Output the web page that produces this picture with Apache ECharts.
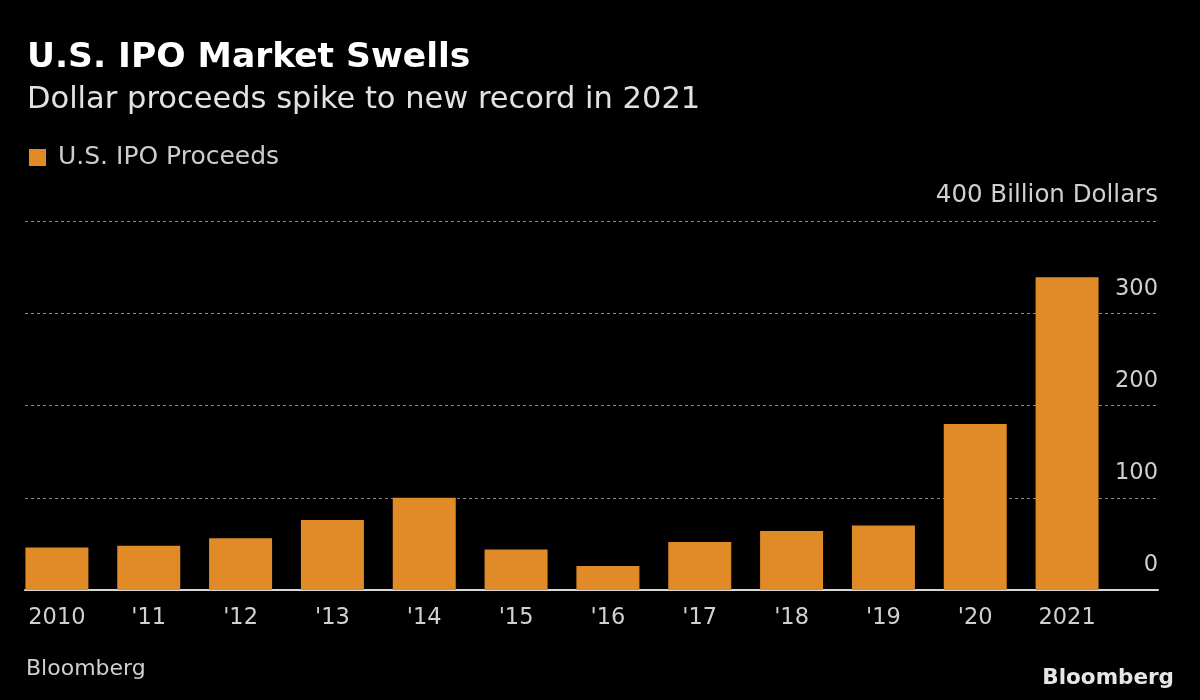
<!DOCTYPE html>
<html>
<head>
<meta charset="utf-8">
<script src="https://cdn.jsdelivr.net/npm/echarts@6/dist/echarts.min.js"></script>
<style>
  html, body { margin: 0; padding: 0; background: #000; }
  #chart { width: 1200px; height: 700px; }
</style>
</head>
<body>
<div id="chart"></div>
<script>
const categories = ['2010', "'11", "'12", "'13", "'14", "'15", "'16", "'17", "'18", "'19", "'20", '2021'];
const proceeds = [46, 48, 56, 76, 100, 44, 26, 52, 64, 70, 180, 339];
const seriesName = 'U.S. IPO Proceeds';
const yTicks = { min: 0, max: 400, interval: 100 };
const unitLabel = 'Billion Dollars';

const FONT = 'DejaVu Sans';
const chart = echarts.init(document.getElementById('chart'), null, { renderer: 'canvas' });

chart.setOption({
  backgroundColor: '#000000',
  animation: false,
  title: [
    { text: 'U.S. IPO Market Swells', left: 22, top: 36,
      textStyle: { color: '#ffffff', fontFamily: FONT, fontWeight: 'bold', fontSize: 34.5 } },
    { text: 'Dollar proceeds spike to new record in 2021', left: 22, top: 80,
      textStyle: { color: '#e2e2e2', fontFamily: FONT, fontWeight: 'normal', fontSize: 30.5 } },
    { text: 'Bloomberg', left: 21, top: 653,
      textStyle: { color: '#cfcfcf', fontFamily: FONT, fontWeight: 'normal', fontSize: 22 } },
    { text: 'Bloomberg', right: 21, top: 662,
      textStyle: { color: '#e6e6e6', fontFamily: FONT, fontWeight: 'bold', fontSize: 21.5 } }
  ],
  legend: {
    data: [seriesName],
    left: 24, top: 140,
    icon: 'rect', itemWidth: 17, itemHeight: 17, itemGap: 8,
    textStyle: { color: '#cccccc', fontFamily: FONT, fontSize: 25, padding: [0, 0, 0, 7] }
  },
  grid: [
    { left: 11, right: 87, top: 221, bottom: 110 },
    { left: 25, right: 42, top: 221, bottom: 110 }
  ],
  xAxis: [
    { type: 'category', gridIndex: 0, data: categories,
      axisLine: { show: false }, axisTick: { show: false },
      axisLabel: { color: '#d0d0d0', fontFamily: FONT, fontSize: 22.5, margin: 17 } },
    { type: 'value', gridIndex: 1, min: 0, max: 1,
      axisLine: { show: true, onZero: false, lineStyle: { color: '#d8d8d8', width: 2 } },
      axisTick: { show: false }, axisLabel: { show: false }, splitLine: { show: false } }
  ],
  yAxis: [
    { type: 'value', gridIndex: 0, min: yTicks.min, max: yTicks.max, interval: yTicks.interval, show: false,
      splitLine: { show: false } },
    { type: 'value', gridIndex: 1, min: yTicks.min, max: yTicks.max, interval: yTicks.interval,
      position: 'right',
      axisLine: { show: false }, axisTick: { show: false },
      axisLabel: {
        inside: true, margin: 0, color: '#d0d0d0', fontFamily: FONT, fontSize: 22.5,
        verticalAlign: 'bottom', padding: [0, 0, 13, 0],
        formatter: v => v === yTicks.max ? '{u|' + v + ' ' + unitLabel + '}' : String(v),
        rich: {
          u: { color: '#d0d0d0', fontFamily: FONT, fontSize: 24.5 }
        }
      },
      splitLine: { show: true, lineStyle: { color: '#8a8a8a', width: 1, type: [3, 3] } } }
  ],
  series: [
    { name: seriesName, type: 'bar', xAxisIndex: 0, yAxisIndex: 0,
      data: proceeds, barWidth: 63, z: 3,
      itemStyle: { color: '#E08B28' } }
  ]
});
</script>
</body>
</html>
